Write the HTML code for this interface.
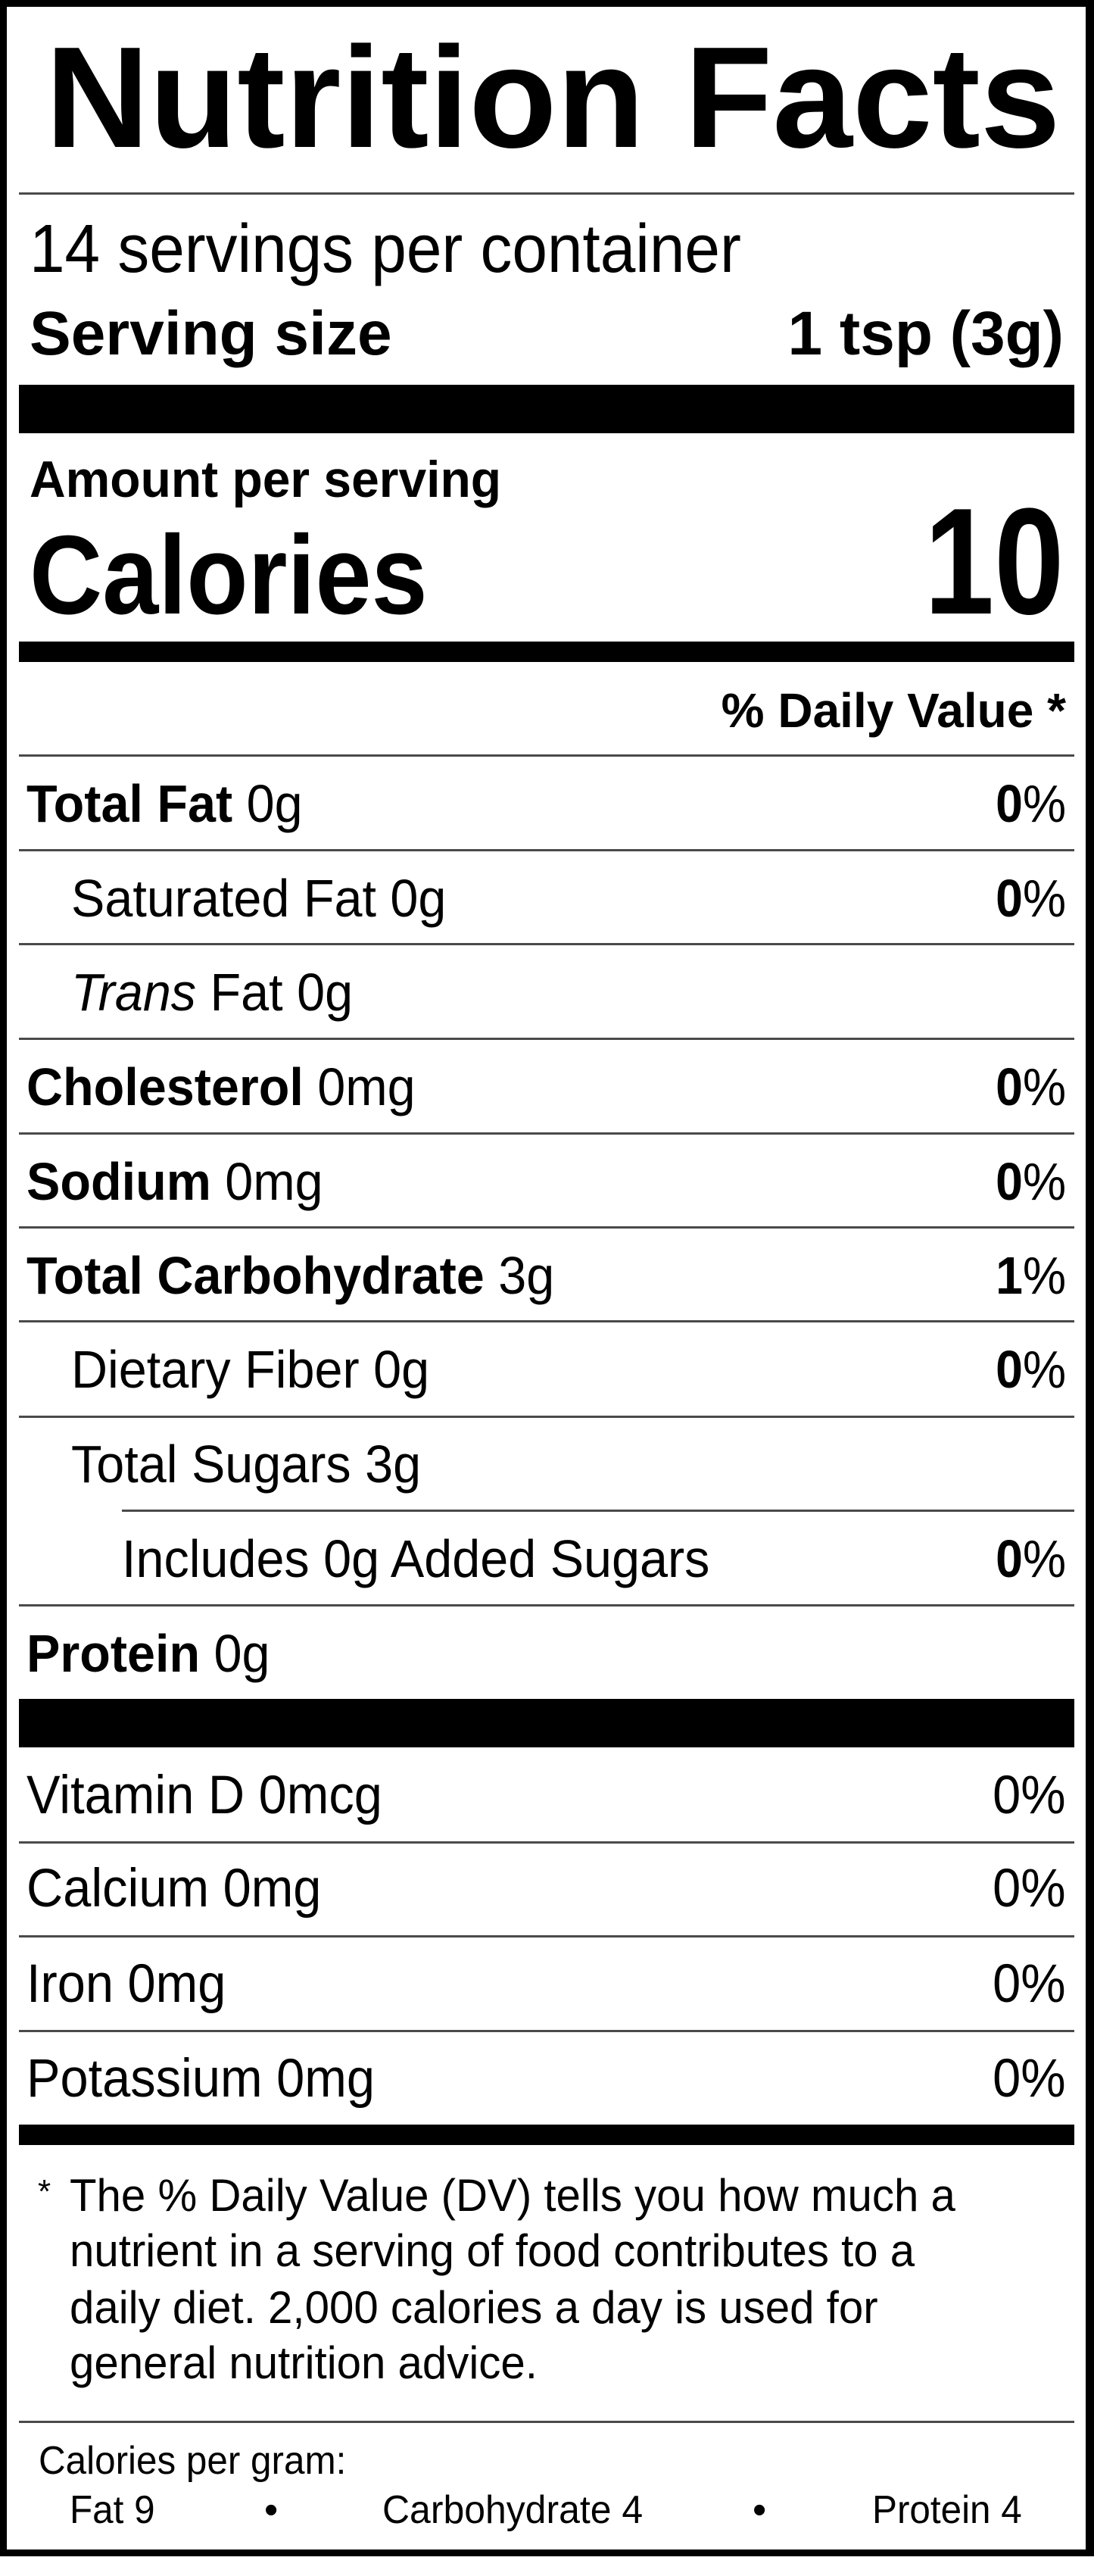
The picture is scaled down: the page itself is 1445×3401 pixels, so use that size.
<!DOCTYPE html>
<html><head><meta charset="utf-8"><style>
html,body{margin:0;padding:0;background:#fff;}
body{width:1445px;height:3401px;position:relative;overflow:hidden;font-family:"Liberation Sans",Arial,sans-serif;color:#000;}
.box{position:absolute;left:0;top:0;width:1445px;height:3375px;box-sizing:border-box;border:9px solid #000;border-right-width:11px;}
.t{position:absolute;white-space:nowrap;line-height:1;transform-origin:left center;}
.r{transform-origin:right center;}
.b{font-weight:bold;}
.hl{position:absolute;left:25px;width:1394px;height:3px;background:#4a4a4a;}
.bar{position:absolute;left:25px;width:1394px;background:#000;}
.row{font-size:70px;transform:scaleX(0.95);}
.pc{font-size:70px;transform:scaleX(0.92);right:37px;}
.vit{font-size:71px;transform:scaleX(0.94);}
</style></head><body>
<div class="box"></div>

<div class="t b" style="left:60px;top:34px;font-size:190px;">Nutrition Facts</div>
<div class="hl" style="top:254px;"></div>

<div class="t" style="left:39px;top:284px;font-size:90px;transform:scaleX(0.93);">14 servings per container</div>
<div class="t b" style="left:39px;top:400px;font-size:82px;">Serving size</div>
<div class="t b r" style="right:40px;top:400px;font-size:82px;">1 tsp (3g)</div>

<div class="bar" style="top:508px;height:64px;"></div>

<div class="t b" style="left:39px;top:599px;font-size:68px;transform:scaleX(0.97);">Amount per serving</div>
<div class="t b" style="left:39px;top:686px;font-size:148px;transform:scaleX(0.90);">Calories</div>
<div class="t b r" style="right:40px;top:642px;font-size:200px;transform:scaleX(0.83);">10</div>

<div class="bar" style="top:847px;height:27px;"></div>

<div class="t b r" style="right:37px;top:906px;font-size:64px;">% Daily Value *</div>
<div class="hl" style="top:996px;"></div>

<div class="t row" style="left:35px;top:1026px;"><b>Total Fat</b> 0g</div>
<div class="t r pc" style="top:1026px;"><b>0</b>%</div>
<div class="hl" style="top:1121px;"></div>

<div class="t row" style="left:94px;top:1151px;">Saturated Fat 0g</div>
<div class="t r pc" style="top:1151px;"><b>0</b>%</div>
<div class="hl" style="top:1245px;"></div>

<div class="t row" style="left:94px;top:1275px;"><i>Trans</i> Fat 0g</div>
<div class="hl" style="top:1370px;"></div>

<div class="t row" style="left:35px;top:1400px;"><b>Cholesterol</b> 0mg</div>
<div class="t r pc" style="top:1400px;"><b>0</b>%</div>
<div class="hl" style="top:1495px;"></div>

<div class="t row" style="left:35px;top:1525px;"><b>Sodium</b> 0mg</div>
<div class="t r pc" style="top:1525px;"><b>0</b>%</div>
<div class="hl" style="top:1619px;"></div>

<div class="t row" style="left:35px;top:1649px;"><b>Total Carbohydrate</b> 3g</div>
<div class="t r pc" style="top:1649px;"><b>1</b>%</div>
<div class="hl" style="top:1743px;"></div>

<div class="t row" style="left:94px;top:1773px;">Dietary Fiber 0g</div>
<div class="t r pc" style="top:1773px;"><b>0</b>%</div>
<div class="hl" style="top:1869px;"></div>

<div class="t row" style="left:94px;top:1898px;">Total Sugars 3g</div>
<div class="hl" style="top:1993px;left:161px;width:1258px;"></div>

<div class="t row" style="left:161px;top:2023px;">Includes 0g Added Sugars</div>
<div class="t r pc" style="top:2023px;"><b>0</b>%</div>
<div class="hl" style="top:2118px;"></div>

<div class="t row" style="left:35px;top:2148px;"><b>Protein</b> 0g</div>

<div class="bar" style="top:2243px;height:64px;"></div>

<div class="t vit" style="left:35px;top:2335px;">Vitamin D 0mcg</div>
<div class="t r vit" style="right:37px;top:2335px;">0%</div>
<div class="hl" style="top:2431px;"></div>
<div class="t vit" style="left:35px;top:2458px;">Calcium 0mg</div>
<div class="t r vit" style="right:37px;top:2458px;">0%</div>
<div class="hl" style="top:2555px;"></div>
<div class="t vit" style="left:35px;top:2584px;">Iron 0mg</div>
<div class="t r vit" style="right:37px;top:2584px;">0%</div>
<div class="hl" style="top:2680px;"></div>
<div class="t vit" style="left:35px;top:2709px;">Potassium 0mg</div>
<div class="t r vit" style="right:37px;top:2709px;">0%</div>

<div class="bar" style="top:2805px;height:27px;"></div>

<div class="t" style="left:50px;top:2872px;font-size:44px;">*</div>
<div class="t" style="left:92px;top:2869px;font-size:60px;transform:scaleX(0.97);">The % Daily Value (DV) tells you how much a</div>
<div class="t" style="left:92px;top:2942px;font-size:60px;transform:scaleX(0.97);">nutrient in a serving of food contributes to a</div>
<div class="t" style="left:92px;top:3017px;font-size:60px;transform:scaleX(0.97);">daily diet. 2,000 calories a day is used for</div>
<div class="t" style="left:92px;top:3090px;font-size:60px;transform:scaleX(0.97);">general nutrition advice.</div>

<div class="hl" style="top:3196px;"></div>

<div class="t" style="left:51px;top:3223px;font-size:52px;transform:scaleX(0.95);">Calories per gram:</div>
<div class="t" style="left:92px;top:3288px;font-size:52px;transform:scaleX(0.95);">Fat 9</div>
<div class="t" style="left:349px;top:3288px;font-size:52px;">•</div>
<div class="t" style="left:505px;top:3288px;font-size:52px;transform:scaleX(0.96);">Carbohydrate 4</div>
<div class="t" style="left:994px;top:3288px;font-size:52px;">•</div>
<div class="t" style="left:1152px;top:3288px;font-size:52px;transform:scaleX(0.95);">Protein 4</div>
</body></html>
